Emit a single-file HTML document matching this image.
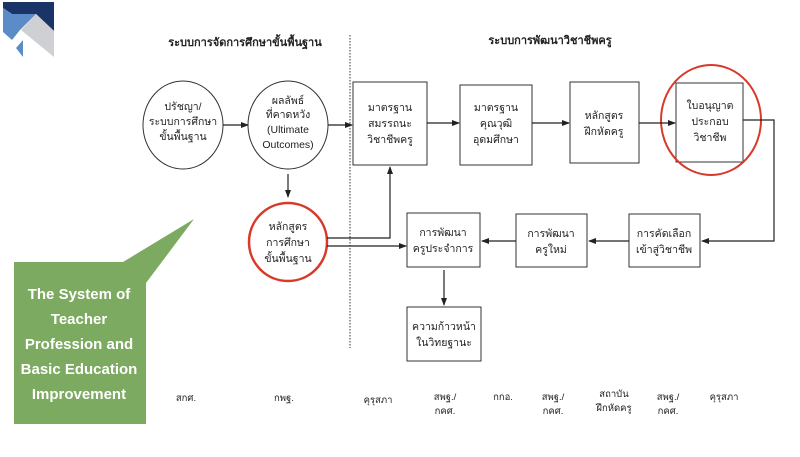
<!DOCTYPE html>
<html><head><meta charset="utf-8"><style>
body{margin:0;background:#fff;}
svg text{font-family:"Liberation Sans","DejaVu Sans",sans-serif;fill:#222;}
</style></head><body>
<svg width="800" height="452" viewBox="0 0 800 452" xmlns="http://www.w3.org/2000/svg">
<defs><marker id="a" markerWidth="8" markerHeight="8" refX="7" refY="4" orient="auto" markerUnits="userSpaceOnUse"><path d="M0,1 L8,4 L0,7z" fill="#222"/></marker></defs>
<!-- logo -->
<polygon points="3,2 54,2 54,31 36,14 12,14 3,8" fill="#1b3468"/>
<polygon points="3,8 12,14 36,14 20,30 12,40 3,32" fill="#5b8cc8"/>
<polygon points="36,14 54,31 54,57 21,30" fill="#cfd0d3"/>
<polygon points="23,40 23,57 16,48" fill="#5b8cc8"/>
<!-- callout -->
<polygon points="14,262 123,262 194,219 146,283 146,424 14,424" fill="#7caa61"/>
<g font-size="15" font-weight="bold" text-anchor="middle">
<text x="79" y="299" style="fill:#fff">The System of</text>
<text x="79" y="324" style="fill:#fff">Teacher</text>
<text x="79" y="349" style="fill:#fff">Profession and</text>
<text x="79" y="374" style="fill:#fff">Basic Education</text>
<text x="79" y="399" style="fill:#fff">Improvement</text>
</g>
<!-- headers -->
<g font-size="11" font-weight="bold" text-anchor="middle">
<text x="245" y="46">ระบบการจัดการศึกษาขั้นพื้นฐาน</text>
<text x="550" y="44">ระบบการพัฒนาวิชาชีพครู</text>
</g>
<line x1="350" y1="35" x2="350" y2="348" stroke="#333" stroke-dasharray="1.5,1.5"/>
<g fill="none" stroke="#333" stroke-width="1">
<ellipse cx="183" cy="125" rx="40" ry="44"/>
<ellipse cx="288" cy="125" rx="40" ry="44"/>
<rect x="353" y="82" width="74" height="83"/>
<rect x="460" y="85" width="72" height="80"/>
<rect x="570" y="82" width="69" height="81"/>
<rect x="676" y="83" width="67" height="79"/>
<rect x="629" y="214" width="71" height="53"/>
<rect x="516" y="214" width="71" height="53"/>
<rect x="407" y="213" width="73" height="54"/>
<rect x="407" y="307" width="74" height="54"/>
</g>
<circle cx="288" cy="242" r="39" fill="none" stroke="#d83a2a" stroke-width="2.5"/>
<ellipse cx="711" cy="120" rx="50" ry="55" fill="none" stroke="#d83a2a" stroke-width="2"/>
<g stroke="#222" stroke-width="1.2" fill="none" marker-end="url(#a)">
<line x1="223" y1="125" x2="248" y2="125"/>
<line x1="328" y1="125" x2="352" y2="125"/>
<line x1="427" y1="123" x2="459" y2="123"/>
<line x1="532" y1="123" x2="569" y2="123"/>
<line x1="639" y1="123" x2="675" y2="123"/>
<line x1="288" y1="174" x2="288" y2="197"/>
<polyline points="327,238 390,238 390,167"/>
<line x1="327" y1="246" x2="406" y2="246"/>
<polyline points="743,120 774,120 774,241 702,241"/>
<line x1="629" y1="241" x2="589" y2="241"/>
<line x1="516" y1="241" x2="482" y2="241"/>
<line x1="444" y1="270" x2="444" y2="305"/>
</g>
<g font-size="10.5" text-anchor="middle">
<text x="183" y="110">ปรัชญา/</text><text x="183" y="125">ระบบการศึกษา</text><text x="183" y="140">ขั้นพื้นฐาน</text>
<text x="288" y="104">ผลลัพธ์</text><text x="288" y="118">ที่คาดหวัง</text><text x="288" y="133">(Ultimate</text><text x="288" y="148">Outcomes)</text>
<text x="288" y="230">หลักสูตร</text><text x="288" y="246">การศึกษา</text><text x="288" y="262">ขั้นพื้นฐาน</text>
<text x="390" y="111">มาตรฐาน</text><text x="390" y="127">สมรรถนะ</text><text x="390" y="143">วิชาชีพครู</text>
<text x="496" y="111">มาตรฐาน</text><text x="496" y="127">คุณวุฒิ</text><text x="496" y="143">อุดมศึกษา</text>
<text x="604" y="119">หลักสูตร</text><text x="604" y="135">ฝึกหัดครู</text>
<text x="710" y="109">ใบอนุญาต</text><text x="710" y="125">ประกอบ</text><text x="710" y="141">วิชาชีพ</text>
<text x="664" y="237">การคัดเลือก</text><text x="664" y="253">เข้าสู่วิชาชีพ</text>
<text x="551" y="237">การพัฒนา</text><text x="551" y="253">ครูใหม่</text>
<text x="443" y="236">การพัฒนา</text><text x="443" y="252">ครูประจำการ</text>
<text x="444" y="330">ความก้าวหน้า</text><text x="444" y="346">ในวิทยฐานะ</text>
</g>
<g font-size="9.5" text-anchor="middle">
<text x="186" y="401">สกศ.</text>
<text x="284" y="401">กพฐ.</text>
<text x="378" y="403">คุรุสภา</text>
<text x="445" y="400">สพฐ./</text><text x="445" y="414">กคศ.</text>
<text x="503" y="400">กกอ.</text>
<text x="553" y="400">สพฐ./</text><text x="553" y="414">กคศ.</text>
<text x="614" y="397">สถาบัน</text><text x="614" y="411">ฝึกหัดครู</text>
<text x="668" y="400">สพฐ./</text><text x="668" y="414">กคศ.</text>
<text x="724" y="400">คุรุสภา</text>
</g>
</svg>
</body></html>
